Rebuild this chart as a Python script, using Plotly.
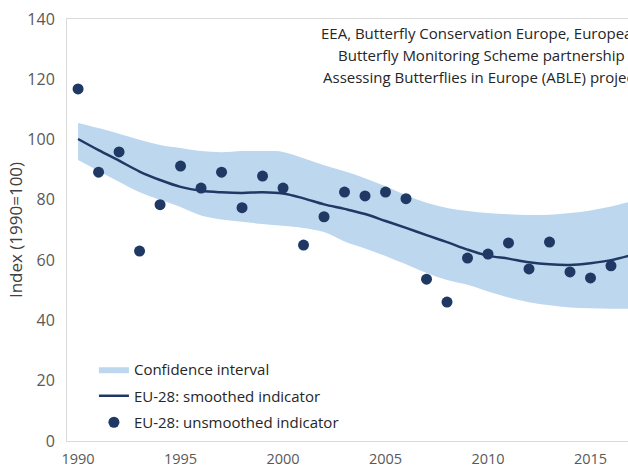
import plotly.graph_objects as go

years = list(range(1990, 2018))
unsmoothed = [116.8, 89.2, 95.9, 63.0, 78.4, 91.2, 83.9, 89.2, 77.4, 87.9, 83.9, 65.0, 74.4, 82.6,
              81.3, 82.6, 80.4, 53.7, 46.1, 60.7, 62.0, 65.7, 57.1, 66.0, 56.1, 54.1, 58.1, 62.7]
smoothed = [100.2, 96.5, 93.0, 89.4, 86.6, 84.3, 83.0, 82.5, 82.3, 82.5, 82.1, 80.5, 78.5, 77.0,
            75.3, 73.0, 70.7, 68.3, 66.0, 63.5, 61.5, 60.5, 59.3, 58.6, 58.4, 59.0, 60.0, 61.7]
ci_upper = [105.5, 103.8, 101.9, 99.9, 98.2, 97.2, 96.2, 95.8, 96.2, 96.2, 95.9, 93.8, 91.5, 89.5,
            87.2, 84.5, 81.5, 79.0, 77.3, 76.3, 75.6, 75.2, 75.0, 75.1, 75.6, 76.5, 77.8, 79.5]
ci_lower = [93.2, 89.6, 86.0, 82.5, 80.0, 77.6, 74.8, 73.5, 72.7, 72.0, 71.4, 70.7, 69.3, 66.2,
            63.9, 61.4, 58.6, 55.7, 53.4, 51.8, 49.6, 47.6, 46.0, 45.0, 44.3, 44.0, 43.9, 43.9]
x_ticks = [1990, 1995, 2000, 2005, 2010, 2015]
y_ticks = [0, 20, 40, 60, 80, 100, 120, 140]
source_lines = ["EEA, Butterfly Conservation Europe, European",
                "Butterfly Monitoring Scheme partnership",
                "Assessing Butterflies in Europe (ABLE) project"]

FONT = "Open Sans"
NAVY = "#1f3864"
BAND = "#bdd7ee"

fig = go.Figure()
fig.add_trace(go.Scatter(x=years, y=ci_lower, mode="lines", line=dict(width=0, shape="spline"),
                         showlegend=False, hoverinfo="skip", cliponaxis=False, legendgroup="ci"))
fig.add_trace(go.Scatter(x=years, y=ci_upper, mode="lines", line=dict(width=0, shape="spline"),
                         fill="tonexty", fillcolor=BAND, name="Confidence interval",
                         cliponaxis=False, legendgroup="ci"))
fig.add_trace(go.Scatter(x=years, y=smoothed, mode="lines", line=dict(color=NAVY, width=2.5, shape="spline"),
                         name="EU-28: smoothed indicator", cliponaxis=False, legendgroup="sm"))
fig.add_trace(go.Scatter(x=years, y=unsmoothed, mode="markers", marker=dict(color=NAVY, size=11),
                         name="EU-28: unsmoothed indicator", cliponaxis=False, legendgroup="un"))

for i, line in enumerate(source_lines):
    fig.add_annotation(text=line, xref="paper", yref="paper", x=0.738, y=0.967 - i * 0.052,
                       xanchor="center", yanchor="middle", showarrow=False,
                       font=dict(family=FONT, size=15, color="#262626"))

fig.update_layout(
    width=628, height=470,
    margin=dict(l=67, r=0, t=19, b=29),
    paper_bgcolor="white", plot_bgcolor="white",
    font=dict(family=FONT, size=14, color="#404040"),
    showlegend=True,
    legend=dict(x=0.048, y=0.2085, xanchor="left", yanchor="top", bgcolor="rgba(0,0,0,0)",
                traceorder="grouped", tracegroupgap=4,
                font=dict(family=FONT, size=15, color="#262626")),
    xaxis=dict(range=[1989.46, 2016.83], tickvals=x_ticks, ticktext=[str(t) for t in x_ticks],
               showgrid=False, zeroline=False, showline=True, linecolor="#d9d9d9", linewidth=1,
               mirror=True, ticks="", ticklabelstandoff=5, automargin=False,
               tickfont=dict(family=FONT, size=14.5, color="#595959")),
    yaxis=dict(range=[0, 140], tickvals=y_ticks, showgrid=False, zeroline=False, showline=True,
               linecolor="#d9d9d9", linewidth=1, mirror=True, ticks="", ticklabelstandoff=8,
               automargin=False,
               tickfont=dict(family=FONT, size=16, color="#595959"),
               title=dict(text="Index (1990=100)", standoff=0,
                          font=dict(family=FONT, size=17, color="#404040"))),
)

fig.write_html("out.html", config={"displayModeBar": False},
               post_script="document.body.style.margin='0px';")
